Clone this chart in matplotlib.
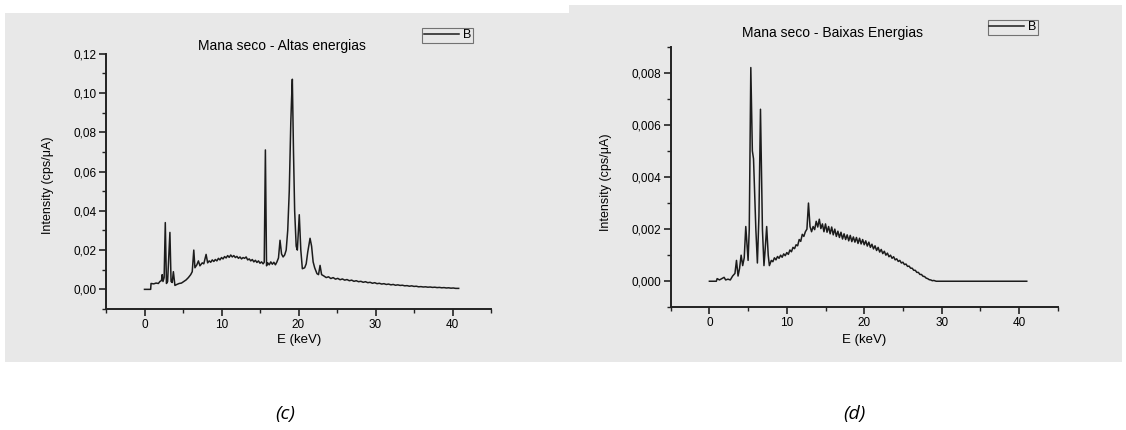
import matplotlib
matplotlib.use('Agg')
import numpy as np
import matplotlib.pyplot as plt
from matplotlib.patches import Rectangle
from matplotlib.ticker import MultipleLocator, FuncFormatter

plt.rcParams['font.family'] = ['Liberation Sans', 'DejaVu Sans']

# (c) Mana seco - Altas energias : (energy keV, intensity cps/uA)
c_points = [
    (0.0, 0.0), (0.8, 0.0), (0.85, 0.003), (1.2, 0.0028), (1.5, 0.0032), (1.8, 0.003), (2.0, 0.004),
    (2.2, 0.0045), (2.3, 0.0075), (2.4, 0.004), (2.55, 0.006), (2.7, 0.034), (2.85, 0.003), (3.0, 0.004),
    (3.3, 0.029), (3.45, 0.004), (3.6, 0.0035), (3.75, 0.009), (3.95, 0.002), (4.2, 0.0025), (4.5, 0.003),
    (4.8, 0.0032), (5.1, 0.004), (5.4, 0.0048), (5.7, 0.006), (6.0, 0.0075), (6.2, 0.009), (6.4, 0.020),
    (6.55, 0.011), (6.8, 0.0125), (7.0, 0.0145), (7.2, 0.012), (7.5, 0.0135), (7.7, 0.013), (8.0, 0.0178),
    (8.2, 0.0135), (8.4, 0.0145), (8.6, 0.0138), (8.8, 0.015), (9.0, 0.0142), (9.2, 0.0152), (9.4, 0.0145),
    (9.6, 0.0158), (9.8, 0.015), (10.0, 0.0162), (10.2, 0.0155), (10.4, 0.0167), (10.6, 0.016),
    (10.8, 0.0172), (11.0, 0.0163), (11.2, 0.0175), (11.4, 0.0165), (11.6, 0.0172), (11.8, 0.0162),
    (12.0, 0.0168), (12.2, 0.0158), (12.4, 0.0165), (12.6, 0.0155), (12.8, 0.0162), (13.0, 0.0158),
    (13.2, 0.0165), (13.4, 0.015), (13.6, 0.0155), (13.8, 0.0145), (14.0, 0.0152), (14.2, 0.014),
    (14.4, 0.0148), (14.6, 0.0137), (14.8, 0.0145), (15.0, 0.0133), (15.2, 0.014), (15.4, 0.013),
    (15.55, 0.0138), (15.7, 0.071), (15.85, 0.012), (16.0, 0.0135), (16.2, 0.0125), (16.4, 0.014),
    (16.6, 0.0128), (16.8, 0.0138), (17.0, 0.0125), (17.2, 0.014), (17.4, 0.016), (17.6, 0.025),
    (17.8, 0.018), (18.0, 0.0165), (18.2, 0.0175), (18.4, 0.02), (18.6, 0.03), (18.8, 0.05), (19.0, 0.085),
    (19.1, 0.097), (19.2, 0.107), (19.35, 0.07), (19.5, 0.04), (19.7, 0.022), (19.85, 0.02), (20.1, 0.038),
    (20.3, 0.02), (20.5, 0.0105), (20.8, 0.011), (21.0, 0.013), (21.2, 0.019), (21.5, 0.026), (21.7, 0.022),
    (21.9, 0.014), (22.1, 0.011), (22.4, 0.008), (22.6, 0.0075), (22.8, 0.0122), (23.0, 0.0075),
    (23.3, 0.0068), (23.6, 0.006), (23.9, 0.0064), (24.2, 0.0055), (24.5, 0.006), (24.8, 0.0052),
    (25.1, 0.0056), (25.4, 0.0049), (25.7, 0.0053), (26.0, 0.0047), (26.3, 0.005), (26.6, 0.0044),
    (26.9, 0.0047), (27.2, 0.0041), (27.5, 0.0044), (27.8, 0.0039), (28.1, 0.0041), (28.4, 0.0036),
    (28.7, 0.0039), (29.0, 0.0034), (29.3, 0.0036), (29.6, 0.0031), (29.9, 0.0034), (30.2, 0.0029),
    (30.5, 0.0031), (30.8, 0.0027), (31.1, 0.0029), (31.4, 0.0025), (31.7, 0.0027), (32.0, 0.0023),
    (32.3, 0.0025), (32.6, 0.0021), (32.9, 0.0023), (33.2, 0.002), (33.5, 0.0021), (33.8, 0.0018),
    (34.1, 0.0019), (34.4, 0.0016), (34.7, 0.0018), (35.0, 0.0015), (35.3, 0.0016), (35.6, 0.0013),
    (35.9, 0.0014), (36.2, 0.0012), (36.5, 0.0013), (36.8, 0.0011), (37.1, 0.0012), (37.4, 0.001),
    (37.7, 0.0011), (38.0, 0.0009), (38.3, 0.001), (38.6, 0.0008), (38.9, 0.0009), (39.2, 0.0007),
    (39.5, 0.0008), (39.8, 0.0006), (40.1, 0.0007), (40.4, 0.0005), (40.8, 0.0005),
]

# (d) Mana seco - Baixas Energias
d_points = [
    (0.0, 0.0), (0.9, 0.0), (1.0, 0.0001), (1.3, 0.00005), (1.6, 0.0001), (1.9, 0.00015), (2.1, 0.00005),
    (2.4, 0.00008), (2.7, 0.00005), (3.0, 0.0002), (3.3, 0.0003), (3.5, 0.0008), (3.7, 0.0002),
    (3.9, 0.0005), (4.1, 0.001), (4.3, 0.0006), (4.5, 0.0009), (4.7, 0.0021), (5.0, 0.0008), (5.15, 0.002),
    (5.35, 0.0082), (5.55, 0.005), (5.7, 0.0047), (6.0, 0.002), (6.2, 0.0007), (6.4, 0.0025), (6.6, 0.0066),
    (6.85, 0.002), (7.05, 0.0006), (7.2, 0.0012), (7.4, 0.0021), (7.6, 0.001), (7.75, 0.0006), (8.0, 0.0008),
    (8.2, 0.00075), (8.4, 0.0009), (8.6, 0.00082), (8.8, 0.00095), (9.0, 0.00088), (9.2, 0.001),
    (9.4, 0.00092), (9.6, 0.00105), (9.8, 0.00098), (10.0, 0.0011), (10.2, 0.00103), (10.4, 0.0012),
    (10.6, 0.00113), (10.8, 0.0013), (11.0, 0.00125), (11.2, 0.0014), (11.4, 0.00136), (11.6, 0.0016),
    (11.8, 0.00153), (12.0, 0.0018), (12.2, 0.00172), (12.4, 0.0019), (12.6, 0.002), (12.8, 0.003),
    (13.0, 0.0021), (13.2, 0.0019), (13.4, 0.0021), (13.6, 0.00198), (13.8, 0.0023), (14.0, 0.00208),
    (14.2, 0.00238), (14.4, 0.00202), (14.6, 0.0022), (14.8, 0.0019), (15.0, 0.0022), (15.2, 0.00188),
    (15.4, 0.0021), (15.6, 0.00182), (15.8, 0.00208), (16.0, 0.00178), (16.2, 0.002), (16.4, 0.00172),
    (16.6, 0.00192), (16.8, 0.00168), (17.0, 0.00188), (17.2, 0.00162), (17.4, 0.00182), (17.6, 0.0016),
    (17.8, 0.00178), (18.0, 0.00155), (18.2, 0.00176), (18.4, 0.00152), (18.6, 0.0017), (18.8, 0.0015),
    (19.0, 0.00168), (19.2, 0.00145), (19.4, 0.00165), (19.6, 0.00143), (19.8, 0.0016), (20.0, 0.0014),
    (20.2, 0.00155), (20.4, 0.00135), (20.6, 0.0015), (20.8, 0.0013), (21.0, 0.00142), (21.2, 0.00124),
    (21.4, 0.00136), (21.6, 0.00118), (21.8, 0.0013), (22.0, 0.00112), (22.2, 0.00122), (22.4, 0.00106),
    (22.6, 0.00115), (22.8, 0.001), (23.0, 0.00108), (23.2, 0.00094), (23.4, 0.001), (23.6, 0.00088),
    (23.8, 0.00094), (24.0, 0.00082), (24.2, 0.00086), (24.4, 0.00076), (24.6, 0.0008), (24.8, 0.0007),
    (25.0, 0.00073), (25.2, 0.00064), (25.4, 0.00066), (25.6, 0.00057), (25.8, 0.00058), (26.0, 0.0005),
    (26.2, 0.0005), (26.4, 0.00042), (26.6, 0.00042), (26.8, 0.00034), (27.0, 0.00034), (27.2, 0.00026),
    (27.4, 0.00026), (27.6, 0.00019), (27.8, 0.00018), (28.0, 0.00012), (28.2, 0.0001), (28.4, 0.00006),
    (28.6, 0.00005), (28.8, 0.00002), (29.0, 0.00003), (29.3, 0.0), (41.0, 0.0),
]

c_energy, c_intensity = zip(*c_points)
d_energy, d_intensity = zip(*d_points)

fig = plt.figure(figsize=(11.26, 4.30), dpi=100)
W, H = 1126, 430

# grey panels behind each plot
fig.patches.append(Rectangle((5 / W, 1 - 362 / H), 564 / W, 349 / H, transform=fig.transFigure,
                             facecolor='#e8e8e8', edgecolor='none', zorder=-5))
fig.patches.append(Rectangle((569 / W, 1 - 362 / H), 553 / W, 357 / H, transform=fig.transFigure,
                             facecolor='#e8e8e8', edgecolor='none', zorder=-5))

ax1 = fig.add_axes([106 / W, 1 - 309 / H, 385 / W, 255.3 / H], zorder=2)
ax2 = fig.add_axes([670.7 / W, 1 - 307.3 / H, 387 / W, 260.6 / H], zorder=2)


def style(ax, ylim, ymaj, ymin, fmt):
    ax.set_facecolor('none')
    for s in ['top', 'right']:
        ax.spines[s].set_visible(False)
    for s in ['left', 'bottom']:
        ax.spines[s].set_linewidth(1.4)
        ax.spines[s].set_color('#222222')
    ax.set_xlim(-5, 45)
    ax.set_ylim(*ylim)
    ax.xaxis.set_major_locator(MultipleLocator(10))
    ax.xaxis.set_minor_locator(MultipleLocator(5))
    ax.yaxis.set_major_locator(MultipleLocator(ymaj))
    ax.yaxis.set_minor_locator(MultipleLocator(ymin))
    ax.yaxis.set_major_formatter(FuncFormatter(lambda v, p: fmt.format(v).replace('.', ',')))
    ax.tick_params(which='major', length=5, width=1.2, color='#222222', labelsize=8.5, pad=2)
    ax.tick_params(which='minor', length=3, width=1.0, color='#222222')


ax1.plot(c_energy, c_intensity, color='#1c1c1c', lw=1.1, label='B')
style(ax1, (-0.01, 0.12), 0.02, 0.01, '{:.2f}')
ax2.plot(d_energy, d_intensity, color='#1c1c1c', lw=1.1, label='B')
style(ax2, (-0.001, 0.009), 0.002, 0.001, '{:.3f}')

fig.text(282 / W, 1 - 46 / H, 'Mana seco - Altas energias', ha='center', va='center', fontsize=10)
fig.text(833 / W, 1 - 33 / H, 'Mana seco - Baixas Energias', ha='center', va='center', fontsize=10)
fig.text(48.5 / W, 1 - 185 / H, 'Intensity (cps/\u03bcA)', rotation=90, ha='center', va='center', fontsize=9)
fig.text(606 / W, 1 - 182 / H, 'Intensity (cps/\u03bcA)', rotation=90, ha='center', va='center', fontsize=9)
fig.text(299 / W, 1 - 340 / H, 'E (keV)', ha='center', va='center', fontsize=9.5)
fig.text(864 / W, 1 - 340 / H, 'E (keV)', ha='center', va='center', fontsize=9.5)

for ax, cx, cy in [(ax1, 447.5, 35.5), (ax2, 1013, 27.5)]:
    leg = ax.legend(loc='center', bbox_to_anchor=(cx / W, 1 - cy / H), bbox_transform=fig.transFigure,
                    fontsize=9, frameon=True, fancybox=False, handlelength=2.8, handletextpad=0.3,
                    borderpad=0.15, borderaxespad=0)
    leg.get_frame().set_edgecolor('#555555')
    leg.get_frame().set_facecolor('none')
    leg.get_frame().set_linewidth(0.8)

fig.text(285.5 / W, 1 - 414 / H, '(c)', ha='center', va='center', fontsize=14, style='italic',
         family=['Open Sans', 'DejaVu Sans'])
fig.text(854 / W, 1 - 414 / H, '(d)', ha='center', va='center', fontsize=14, style='italic',
         family=['Open Sans', 'DejaVu Sans'])

fig.savefig('out.png', dpi=100)
